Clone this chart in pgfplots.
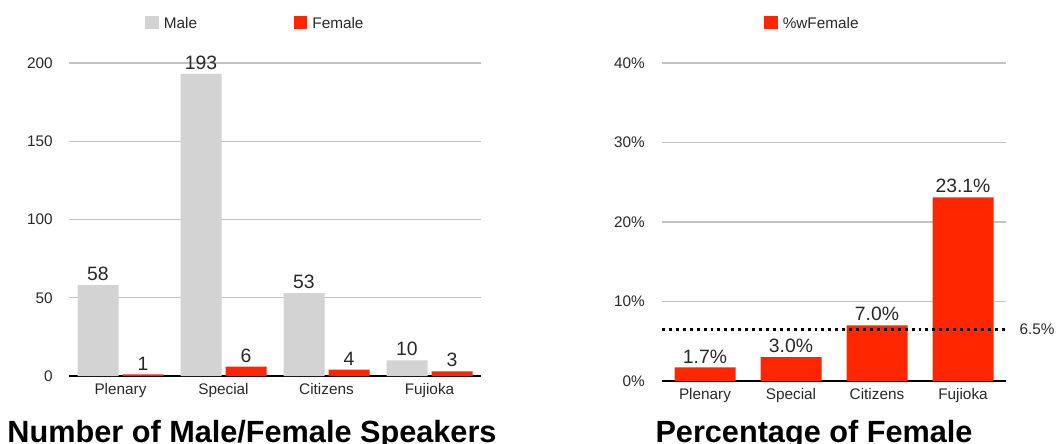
\documentclass[border=0pt]{standalone}
\usepackage{pgfplots}
\pgfplotsset{compat=1.18}
\usepackage{fontspec}
\setmainfont{Liberation Sans}

\definecolor{male}{RGB}{211,211,211}
\definecolor{female}{RGB}{255,38,0}
\definecolor{gridc}{RGB}{195,195,195}
\definecolor{txt}{RGB}{40,40,40}

\pgfplotsset{
  sheet/.style={
    scale only axis,
    axis x line*=bottom, axis y line*=left,
    x axis line style={black, line width=1.1pt},
    y axis line style={draw=none},
    major tick length=0pt,
    ymajorgrids, grid style={gridc, line width=0.8pt},
    xmin=-0.5, xmax=3.5,
    xtick={0,1,2,3},
    xticklabels={Plenary,Special,Citizens,Fujioka},
    tick label style={text=txt, font=\fontsize{11.5}{14}\selectfont, inner sep=0pt},
    yticklabel style={anchor=east, xshift=-12pt},
    xticklabel style={anchor=north, yshift=-5pt},
    /pgf/number format/assume math mode=true,
    clip=false,
    legend image code/.code={\fill[#1] (0pt,-3.5pt) rectangle (10pt,6.5pt);},
    legend style={draw=none, fill=none, legend columns=2, inner sep=0pt,
      /tikz/every even column/.append style={column sep=69pt},
      nodes={inner sep=0pt, inner xsep=3.75pt, text=txt, font=\fontsize{11.5}{14}\selectfont}},
    legend cell align=left,
  },
  vals/.style={nodes near coords, nodes near coords style={anchor=south, inner sep=0pt, yshift=3pt, xshift=#1, text=txt, font=\fontsize{14.5}{16}\selectfont}},
  vals/.default=0pt,
}

\begin{document}
\begin{tikzpicture}

% left panel: counts
\begin{axis}[sheet,
  at={(51.75pt,50.25pt)}, anchor=south west,
  width=309pt, height=234.75pt,
  ymin=0, ymax=200,
  ytick={0,50,100,150,200}, yticklabels={0,50,100,150,200},
  legend style={at={(0.5,1)}, anchor=south, xshift=-13.5pt, yshift=24pt},
]
\addplot[ybar, fill=male, draw=none, bar width=30.75pt, bar shift=-16.875pt, vals=-16.875pt]
  coordinates {(0,58) (1,193) (2,53) (3,10)};
\addplot[ybar, fill=female, draw=none, bar width=30.75pt, bar shift=16.875pt, vals=16.875pt]
  coordinates {(0,1) (1,6) (2,4) (3,3)};
\legend{Male, Female}
\end{axis}

% right panel: share of female speakers
\begin{axis}[sheet,
  at={(496.5pt,46.5pt)}, anchor=south west,
  width=258pt, height=238.5pt,
  ymin=0, ymax=40,
  ytick={0,10,20,30,40}, yticklabels={0\%,10\%,20\%,30\%,40\%},
  yticklabel style={xshift=-0.75pt},
  legend style={at={(0.5,1)}, anchor=south, xshift=-15pt, yshift=24pt},
]
\addplot[ybar, fill=female, draw=none, bar width=45.75pt, bar shift=0pt, vals,
  nodes near coords={\pgfmathprintnumber[fixed,fixed zerofill,precision=1]{\pgfplotspointmeta}\%}]
  coordinates {(0,1.7) (1,3.0) (2,7.0) (3,23.1)};
\addplot[black, line width=2pt, dash pattern=on 2.2pt off 3pt, forget plot]
  coordinates {(-0.5,6.5) (3.5,6.5)};
\node[anchor=west, xshift=10pt, inner sep=0pt, text=txt, font=\fontsize{11.5}{14}\selectfont] at (axis cs:3.5,6.5) {6.5\%};
\legend{\%wFemale}
\end{axis}

\node[anchor=base, font=\bfseries\fontsize{23}{26}\selectfont] at (189pt,0.75pt) {Number of Male/Female Speakers};
\node[anchor=base, font=\bfseries\fontsize{23}{26}\selectfont] at (610.5pt,0.75pt) {Percentage of Female};

\pgfresetboundingbox
\useasboundingbox (0,0) rectangle (792pt,332.25pt);
\end{tikzpicture}
\end{document}
